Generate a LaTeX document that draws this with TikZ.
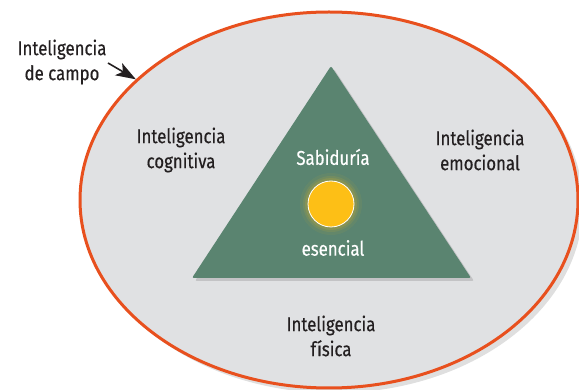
\documentclass[tikz,border=0pt]{standalone}
\usepackage{fontspec}
\setmainfont{Fira Sans}[FakeStretch=0.84,FakeBold=0.4]
\usepackage{tikz}
\usetikzlibrary{shapes.geometric,shadows,arrows.meta}

\definecolor{fieldgray}{HTML}{E0E1E3}
\definecolor{fieldline}{HTML}{E8501E}
\definecolor{wisegreen}{HTML}{5A8470}
\definecolor{sunyellow}{HTML}{FDBF16}
\definecolor{inktext}{HTML}{231F20}

\begin{document}
\begin{tikzpicture}[x=1pt,y=-1pt]
    \tikzstyle{label} = [text=inktext, font=\fontsize{20}{25}\selectfont, align=center, inner sep=0pt]
    \tikzstyle{wise} = [text=white, font=\fontsize{20}{25}\selectfont, inner sep=0pt]

    \useasboundingbox (0,0) rectangle (579,390);

    % Field ellipse
    \node[ellipse, draw=fieldline, line width=3pt, fill=fieldgray, minimum width=498pt, minimum height=376pt,
          drop shadow={shadow xshift=5pt, shadow yshift=-5pt, opacity=.25}] (field) at (329,200) {};

    % Triangle of wisdom
    \coordinate (apex) at (331,66);
    \coordinate (baseL) at (192,278);
    \coordinate (baseR) at (471,278);
    \fill[wisegreen, rounded corners=2pt, drop shadow={shadow xshift=3pt, shadow yshift=-3pt, opacity=.3}]
        (apex) -- (baseR) -- (baseL) -- cycle;

    % Sun with glow
    \foreach \r/\o in {31/.06, 28/.1, 26/.15}
        \fill[sunyellow, opacity=\o] (331,204) circle (\r pt);
    \node[circle, fill=sunyellow, draw=white, line width=0.8pt, minimum size=46pt, inner sep=0pt] (sun) at (331,204) {};

    % Labels
    \node[wise] (sabiduria) at (333,157) {Sabiduría};
    \node[wise] (esencial) at (333,248) {esencial};
    \node[label] (cognitiva) at (181,150) {Inteligencia\\cognitiva};
    \node[label] (emocional) at (480,150) {Inteligencia\\emocional};
    \node[label] (fisica) at (331,336) {Inteligencia\\física};
    \node[label] (campo) at (62,62) {Inteligencia\\de campo};

    % Pointer to the field
    \coordinate (from) at (108,63);
    \draw[inktext, line width=1.6pt, -{Stealth[length=20pt,width=14pt,inset=5pt]}] (from) -- (field.148);
\end{tikzpicture}
\end{document}
